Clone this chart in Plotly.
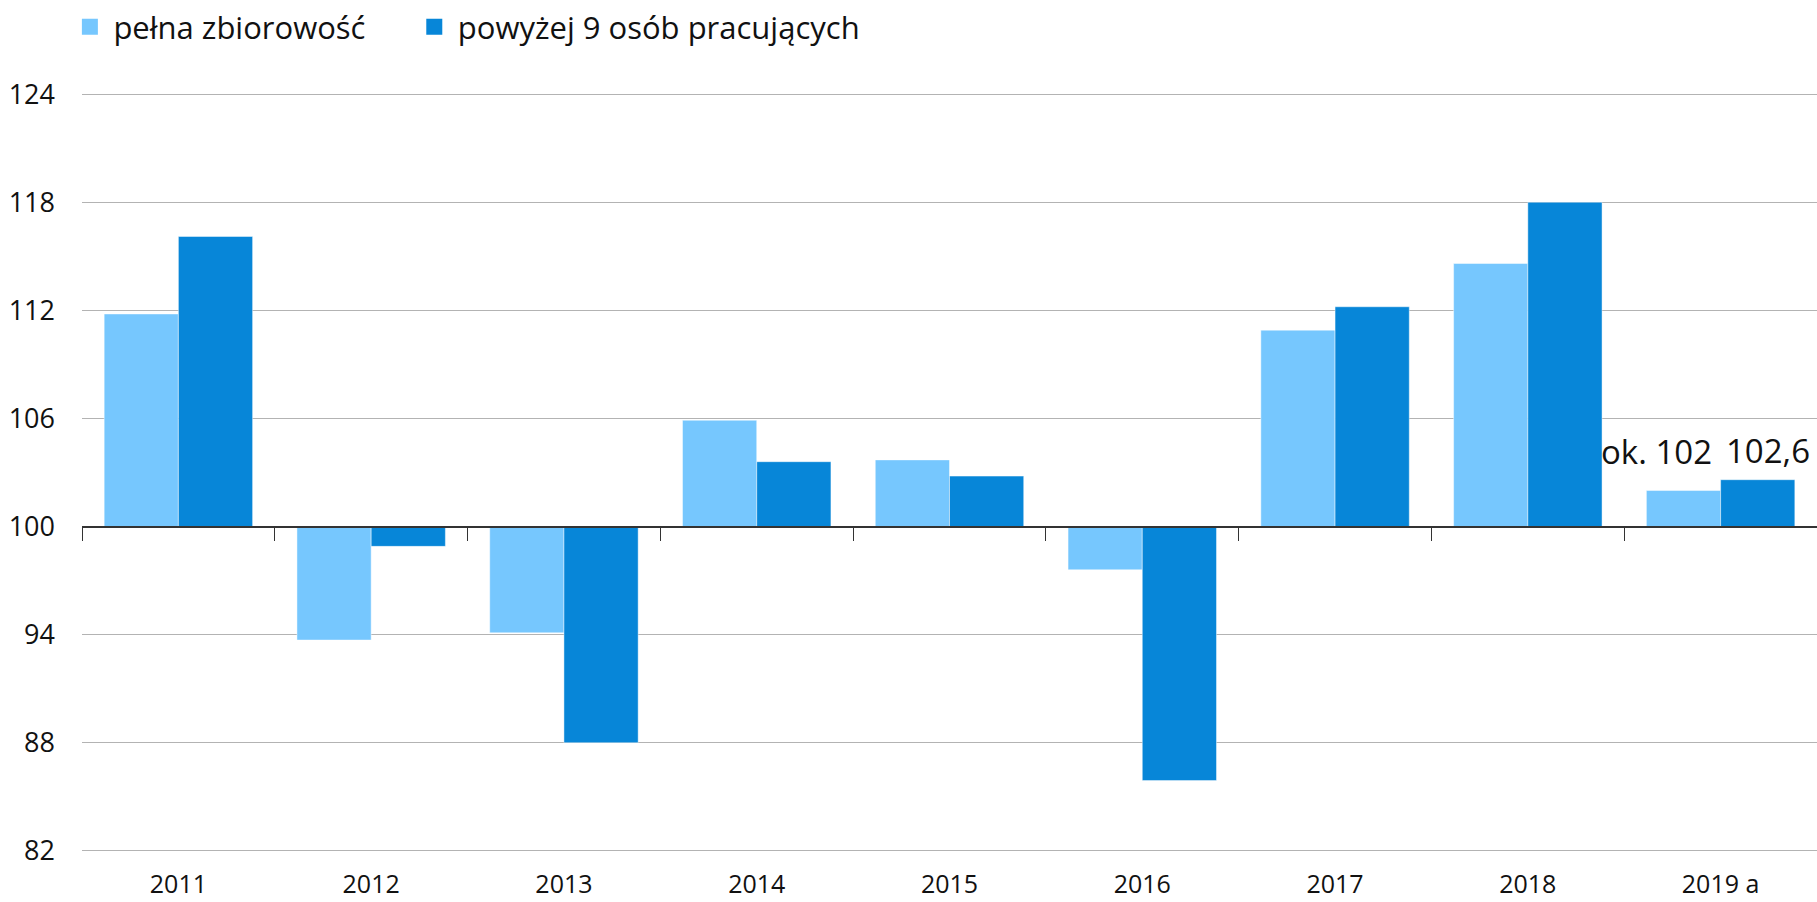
import plotly.graph_objects as go

categories = ["2011", "2012", "2013", "2014", "2015", "2016", "2017", "2018", "2019 a"]
pelna = [111.8, 93.7, 94.1, 105.9, 103.7, 97.6, 110.9, 114.6, 102.0]
powyzej9 = [116.1, 98.9, 88.0, 103.6, 102.8, 85.9, 112.2, 118.0, 102.6]
base_value = 100
y_ticks = [82, 88, 94, 100, 106, 112, 118, 124]
label_pelna = ["", "", "", "", "", "", "", "", "ok. 102"]
label_powyzej = ["", "", "", "", "", "", "", "", "102,6"]

names = ["pełna zbiorowość", "powyżej 9 osób pracujących"]
colors = ["#76C7FE", "#0786D8"]
legend_ids = ["legend", "legend2"]
FONT = "Open Sans"

fig = go.Figure()
for name, vals, col in zip(names, [pelna, powyzej9], colors):
    fig.add_trace(go.Bar(
        x=categories,
        y=[v - base_value for v in vals],
        base=base_value,
        name=name,
        showlegend=False,
        marker=dict(color=col, line=dict(color="rgba(255,255,255,0.45)", width=1)),
        hoverinfo="skip",
    ))

# legend entries (square symbols)
for name, col, lg in zip(names, colors, legend_ids):
    fig.add_trace(go.Scatter(
        x=[None], y=[None], mode="markers", name=name, legend=lg,
        marker=dict(symbol="square", size=18, color=col), hoverinfo="skip",
    ))

# helper trace for the baseline axis at 100
fig.add_trace(go.Scatter(
    x=[-0.5, len(categories) - 0.5], y=[base_value, base_value],
    xaxis="x2", mode="lines", line=dict(width=0), showlegend=False, hoverinfo="skip",
))

annotations = []
for cat, v, t in zip(categories, pelna, label_pelna):
    if t:
        annotations.append(dict(x=cat, y=v, text=t, showarrow=False, xref="x", yref="y",
                                yanchor="bottom", xanchor="center", xshift=-64, yshift=15,
                                font=dict(family=FONT, size=33, color="#111111")))
for cat, v, t in zip(categories, powyzej9, label_powyzej):
    if t:
        annotations.append(dict(x=cat, y=v, text=t, showarrow=False, xref="x", yref="y",
                                yanchor="bottom", xanchor="center", xshift=47, yshift=5,
                                font=dict(family=FONT, size=33, color="#111111")))

legend_style = dict(orientation="h", xanchor="left", yref="container", y=1 - 27 / 902, yanchor="middle",
                    font=dict(family=FONT, size=31, color="#111111"), itemwidth=37,
                    itemclick=False, itemdoubleclick=False, bgcolor="rgba(0,0,0,0)")

ymin, ymax = y_ticks[0], y_ticks[-1]
pad = 0.12
fig.update_layout(
    width=1817, height=902,
    margin=dict(l=82, r=0, t=92, b=49, autoexpand=False),
    paper_bgcolor="white", plot_bgcolor="white",
    barmode="group", bargap=0.23, bargroupgap=0,
    font=dict(family=FONT, size=25, color="#111111"),
    showlegend=True,
    legend=dict(x=-0.009, **legend_style),
    legend2=dict(x=0.1895, **legend_style),
    xaxis=dict(type="category", range=[-0.5, len(categories) - 0.5], showgrid=False, automargin=False,
               showline=False, ticks="", tickfont=dict(size=25), ticklabelstandoff=14),
    xaxis2=dict(overlaying="x", anchor="free", automargin=False,
                position=(base_value - (ymin - pad)) / ((ymax + pad) - (ymin - pad)),
                range=[-0.5, len(categories) - 0.5], tickvals=[i - 0.5 for i in range(len(categories) + 1)],
                showticklabels=False, ticks="outside", ticklen=14, tickwidth=1, tickcolor="#333333",
                showline=True, linecolor="#333333", linewidth=1.5, showgrid=False, zeroline=False),
    yaxis=dict(range=[ymin - pad, ymax + pad], tickvals=y_ticks, showgrid=True, gridcolor="#b3b3b3",
               gridwidth=1, zeroline=False, showline=False, ticks="", tickfont=dict(size=27),
               ticklabelstandoff=26, automargin=False),
    annotations=annotations,
)

fig.write_html("out.html", config={"displayModeBar": False},
               post_script="document.body.style.margin='0';document.body.style.overflow='hidden';")
